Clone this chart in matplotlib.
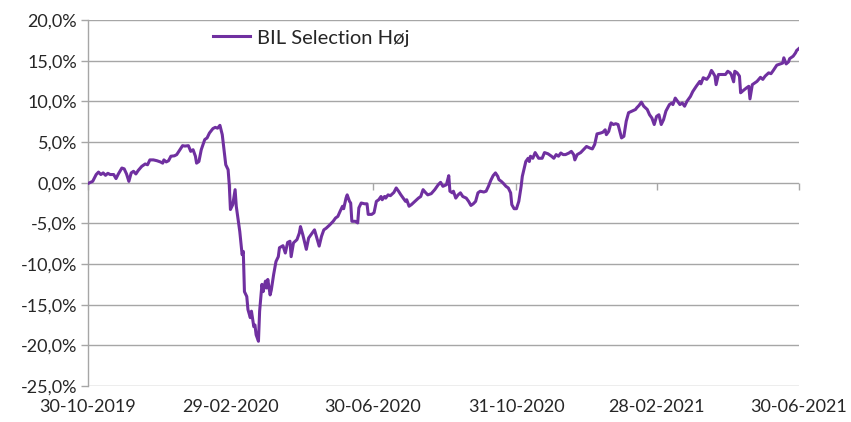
import matplotlib
matplotlib.use("Agg")
import matplotlib.pyplot as plt
import matplotlib.dates as mdates
import matplotlib.ticker as mticker
import pandas as pd
import numpy as np

start_date = "2019-10-30"
# days since start date
days = [0, 4, 7, 9, 11, 13, 15, 17, 19, 22, 24, 26, 29, 31, 33, 35, 37, 39, 41, 43,
        46, 49, 51, 53, 56, 59, 62, 64, 65, 67, 69, 71, 74, 76, 78, 81, 83, 86, 88, 90,
        92, 93, 95, 97, 100, 102, 104, 107, 109, 111, 113, 115, 118, 120, 121, 122, 124, 126, 127, 130,
        132, 133, 134, 136, 137, 139, 140, 142, 143, 144, 146, 147, 149, 150, 152, 153, 154, 156, 157, 159,
        161, 163, 164, 167, 169, 171, 173, 174, 176, 179, 181, 182, 184, 187, 189, 191, 193, 194, 196, 198,
        200, 202, 204, 207, 210, 212, 214, 216, 218, 219, 221, 222, 224, 225, 226, 229, 231, 232, 234, 237,
        239, 240, 243, 245, 247, 249, 251, 252, 254, 255, 257, 259, 262, 264, 266, 268, 270, 272, 273, 275,
        277, 280, 283, 285, 287, 289, 291, 294, 297, 300, 302, 304, 307, 309, 310, 312, 313, 315, 317, 319,
        321, 324, 326, 328, 330, 332, 334, 336, 339, 341, 343, 345, 347, 349, 351, 352, 354, 356, 358, 360,
        362, 363, 365, 367, 369, 371, 372, 373, 375, 377, 378, 379, 381, 383, 386, 389, 391, 394, 397, 399,
        401, 403, 405, 407, 409, 412, 414, 416, 417, 419, 422, 425, 427, 430, 432, 434, 436, 439, 441, 443,
        444, 446, 448, 450, 452, 454, 457, 459, 461, 463, 466, 469, 470, 472, 474, 476, 479, 481, 483, 485,
        487, 489, 491, 493, 495, 498, 500, 501, 503, 505, 507, 509, 511, 513, 516, 518, 521, 524, 525, 527,
        530, 532, 534, 535, 537, 538, 540, 543, 546, 548, 550, 551, 553, 554, 556, 558, 559, 561, 564, 566,
        567, 569, 571, 573, 576, 578, 580, 583, 585, 587, 590, 593, 595, 596, 598, 600, 601, 604, 606, 607,
        609]
# return in percent
values = [-0.1, 0.16, 1.0, 1.3, 1.0, 1.2, 0.9, 1.15, 1.0, 1.0, 0.5, 1.07, 1.8, 1.7, 1.07, 0.16, 1.2, 1.4, 1.07, 1.5,
          2.0, 2.3, 2.2, 2.8, 2.8, 2.7, 2.55, 2.4, 2.8, 2.55, 2.7, 3.25, 3.3, 3.45, 3.9, 4.55, 4.5, 4.55, 3.85, 4.05,
          3.25, 2.4, 2.6, 4.05, 5.3, 5.5, 6.1, 6.65, 6.8, 6.7, 7.05, 5.9, 2.2, 1.6, -0.25, -3.3, -2.7, -0.86, -2.9, -6.0,
          -8.85, -8.45, -13.4, -14.0, -15.6, -16.6, -15.8, -17.7, -17.5, -18.7, -19.5, -15.8, -12.5, -13.4, -12.1, -12.95, -11.9, -13.8, -13.2, -11.3,
          -9.7, -9.1, -8.0, -7.75, -8.65, -7.35, -7.2, -9.1, -7.4, -7.0, -6.2, -5.4, -6.4, -8.2, -6.8, -6.4, -6.0, -5.8, -6.8, -7.8,
          -6.6, -5.8, -5.6, -5.2, -4.75, -4.35, -4.15, -3.5, -2.9, -3.2, -1.9, -1.5, -2.3, -2.5, -4.75, -4.75, -4.95, -3.1, -2.5, -2.6,
          -2.6, -3.9, -3.9, -3.7, -2.3, -2.1, -1.7, -2.1, -1.7, -1.9, -1.5, -1.6, -1.2, -0.65, -1.05, -1.5, -1.9, -2.3, -2.1, -2.9,
          -2.7, -2.3, -1.9, -1.7, -0.86, -1.2, -1.5, -1.35, -0.86, -0.25, 0.04, -0.45, -0.25, 0.86, -1.05, -1.25, -1.05, -1.9, -1.5, -1.25,
          -1.7, -1.9, -2.3, -2.8, -2.6, -2.3, -1.25, -1.05, -1.15, -1.05, -0.45, 0.28, 0.86, 1.2, 0.77, 0.37, 0.16, -0.12, -0.45, -0.65,
          -1.25, -2.7, -3.2, -3.2, -2.3, -0.45, 0.77, 1.4, 2.6, 3.0, 2.6, 3.25, 3.0, 3.7, 3.0, 3.0, 3.7, 3.55, 3.25, 3.0,
          3.45, 3.25, 3.65, 3.45, 3.45, 3.65, 3.85, 3.45, 2.8, 3.45, 3.7, 4.15, 4.45, 4.25, 4.15, 4.7, 6.0, 6.1, 6.2, 6.5,
          5.9, 6.3, 7.35, 7.15, 7.25, 7.15, 5.5, 5.7, 7.55, 8.6, 8.8, 9.0, 9.2, 9.5, 9.9, 9.4, 9.0, 8.35, 7.95, 7.15,
          8.15, 8.35, 7.15, 7.75, 8.8, 9.6, 9.8, 9.6, 10.4, 10.0, 9.6, 9.8, 9.4, 10.0, 10.6, 11.2, 11.85, 12.45, 12.15, 12.9,
          12.7, 13.1, 13.8, 13.6, 13.1, 12.05, 13.3, 13.3, 13.3, 13.7, 13.5, 13.3, 12.4, 13.7, 13.5, 13.1, 11.05, 11.3, 11.65, 11.85,
          10.3, 12.05, 12.25, 12.45, 12.95, 12.7, 13.1, 13.5, 13.4, 13.8, 14.45, 14.6, 14.7, 15.35, 14.6, 14.85, 15.25, 15.55, 15.95, 16.25,
          16.5]

series_label = "BIL Selection Høj"
tick_dates = ["2019-10-30", "2020-02-29", "2020-06-30", "2020-10-31", "2021-02-28", "2021-06-30"]
y_ticks = [-25, -20, -15, -10, -5, 0, 5, 10, 15, 20]

dates = pd.Timestamp(start_date) + pd.to_timedelta(days, unit="D")
tdates = pd.to_datetime(tick_dates)

plt.rcParams['font.family'] = ['Lato', 'DejaVu Sans']

fig = plt.figure(figsize=(8.51, 4.22), dpi=100)
ax = fig.add_axes([88/851, 1-386/422, (799-88)/851, (386-20)/422])

grid_c = '#a6a6a6'
ax.plot(dates, values, color='#7030A0', lw=2.2, label=series_label, zorder=3,
        solid_joinstyle='round')

ax.set_ylim(-25, 20)
ax.set_xlim(tdates[0], tdates[-1])
ax.set_yticks(y_ticks)
ax.yaxis.set_major_formatter(mticker.FuncFormatter(lambda v, p: f"{v:.1f}".replace('.', ',') + "%"))
ax.grid(axis='y', color=grid_c, lw=1.0)
ax.set_axisbelow(True)

ax.set_xticks(tdates)
ax.set_xticklabels([d.strftime("%d-%m-%Y") for d in tdates])

for s in ['top', 'right', 'bottom']:
    ax.spines[s].set_visible(False)
ax.spines['left'].set_color(grid_c)
ax.spines['left'].set_linewidth(1.0)

ax.tick_params(axis='y', length=5, color=grid_c, width=1.0, labelsize=13, labelcolor='#262626', pad=3)
ax.tick_params(axis='x', length=0, labelsize=13, labelcolor='#262626', pad=9)

# x-axis line at zero with tick marks
sec = ax.secondary_xaxis(25/45)
sec.set_xticks(tdates)
sec.xaxis.set_major_formatter(mticker.NullFormatter())
sec.tick_params(axis='x', length=5, color=grid_c, width=1.0, direction='out')
sec.spines['bottom'].set_color(grid_c)
sec.spines['bottom'].set_linewidth(1.0)
sec.spines['top'].set_visible(False)
sec.xaxis.set_ticks_position('bottom')

leg = ax.legend(loc='center left', bbox_to_anchor=((213-88)/711, (386-38)/366), frameon=False,
                fontsize=14.5, handlelength=1.85, handletextpad=0.35, borderpad=0, borderaxespad=0,
                labelcolor='#262626')

fig.savefig("out.png", dpi=100)
